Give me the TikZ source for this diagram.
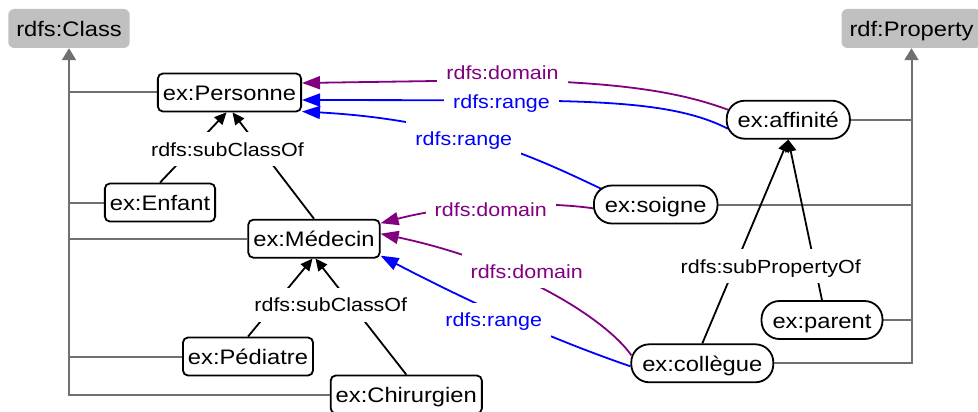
\documentclass[tikz,border=0pt]{standalone}
\usepackage{fontspec}
\setmainfont{Liberation Sans}[FakeStretch=1.13]
\usetikzlibrary{arrows.meta,calc,backgrounds}
\definecolor{dompurple}{RGB}{128,0,128}
\definecolor{rngblue}{RGB}{0,0,255}
\definecolor{glinecol}{RGB}{112,112,112}
\definecolor{gfillcol}{RGB}{192,192,192}
\newcommand\myNodeFont{\fontsize{21pt}{25pt}\selectfont}
\newcommand\myLabFont{\fontsize{19pt}{23pt}\selectfont}
\begin{document}
\begin{tikzpicture}[x=1pt,y=-1pt,
  cbox/.style={rectangle, draw=black, line width=1.8pt, rounded corners=5pt,
    minimum height=38pt, inner xsep=5pt, inner ysep=0pt,
    text height=17pt, text depth=1pt, font=\myNodeFont},
  pill/.style={cbox, rounded corners=18pt, inner xsep=11pt},
  gbox/.style={rectangle, fill=gfillcol, rounded corners=6pt,
    minimum height=39pt, inner xsep=8pt, inner ysep=0pt,
    text height=17pt, text depth=1pt, font=\myNodeFont},
  lab/.style={fill=white, inner xsep=9pt, inner ysep=10pt,
    text height=14pt, text depth=0pt, font=\myLabFont, anchor=base},
  subarr/.style={black, line width=1.8pt, -{Triangle[length=12pt,width=11pt]}},
  domarr/.style={dompurple, line width=1.8pt, -{Triangle[length=18pt,width=13pt]}},
  rngarr/.style={rngblue, line width=1.8pt, -{Triangle[length=18pt,width=13pt]}},
  gl/.style={glinecol, line width=2pt},
  garr/.style={gl, -{Triangle[length=12pt,width=14pt]}}
]
\useasboundingbox (0,0) rectangle (978,412);

% class and property nodes
\node[gbox] (cls) at (69,28.5) {rdfs:Class};
\node[gbox] (prop) at (911.5,28.5) {rdf:Property};
\node[cbox] (pers) at (229.5,92.5) {ex:Personne};
\node[cbox] (enf) at (160,202.5) {ex:Enfant};
\node[cbox] (med) at (314,238.7) {ex:Médecin};
\node[cbox] (ped) at (248,356.5) {ex:Pédiatre};
\node[cbox] (chir) at (406.3,394.5) {ex:Chirurgien};
\node[pill] (aff) at (788.3,119.7) {ex:affinité};
\node[pill] (soi) at (655.7,204.5) {ex:soigne};
\node[pill] (par) at (822,320) {ex:parent};
\node[pill] (col) at (702.3,363.3) {ex:collègue};

% edge labels
\node[lab,text=dompurple] (d1) at (502.5,80) {rdfs:domain};
\node[lab,text=rngblue] (r1) at (501.5,108.3) {rdfs:range};
\node[lab,text=rngblue] (r2) at (463.8,145) {rdfs:range};
\node[lab,text=dompurple] (d2) at (490.8,216.7) {rdfs:domain};
\node[lab,text=dompurple] (d3) at (526.7,278.3) {rdfs:domain};
\node[lab,text=rngblue] (r3) at (493.7,326.7) {rdfs:range};
\node[lab] (s1) at (227.5,156) {rdfs:subClassOf};
\node[lab] (s2) at (330.8,311.7) {rdfs:subClassOf};
\node[lab] (sp) at (770.8,273.3) {rdfs:subPropertyOf};

\begin{pgfonlayer}{background}
% gray type links
\draw[garr] (chir.west) -| (cls.south);
\foreach \n in {pers,enf,med,ped} \draw[gl] (\n.west) -- (\n.west -| cls.south);
\draw[garr] (col.east) -| (prop.south);
\foreach \n in {aff,soi,par} \draw[gl] (\n.east) -- (\n.east -| prop.south);

% subclass / subproperty
\draw[subarr] (enf.north) -- ($(pers.south)+(-3,0)$);
\draw[subarr] (med.north) -- ($(pers.south)+(3,0)$);
\draw[subarr] (ped.north) -- ($(med.south)+(-1.5,0)$);
\draw[subarr] (chir.north) -- ($(med.south)+(1.5,0)$);
\draw[subarr] (col.north) -- (aff.south);
\draw[subarr] (par.north) -- (aff.south);

% domain / range
\draw[domarr] ($(aff.west)+(2,-10)$) .. controls (680,92) and (620,82) .. (d1.base) -- ($(pers.east)+(0,-9.5)$);
\draw[rngarr] ($(aff.west)+(2,9)$) .. controls (680,104) and (610,101) .. ($(r1.base)+(0,-8)$) -- ($(pers.east)+(0,7.5)$);
\draw[rngarr] ($(soi.west)+(9.4,-15.2)$) .. controls (540,160) and (460,120) .. ($(pers.east)+(0,19)$);
\draw[domarr] ($(soi.west)+(1,4)$) .. controls (560,203) and (470,200) .. ($(med.east)+(0,-15.5)$);
\draw[domarr] ($(col.west)+(1,-8)$) .. controls (605,318) and (515,262) .. ($(med.east)+(0,-5)$);
\draw[rngarr] ($(col.west)+(0,3)$) .. controls (580,349) and (500,318) .. ($(med.east)+(0,17)$);
\end{pgfonlayer}
\end{tikzpicture}
\end{document}
